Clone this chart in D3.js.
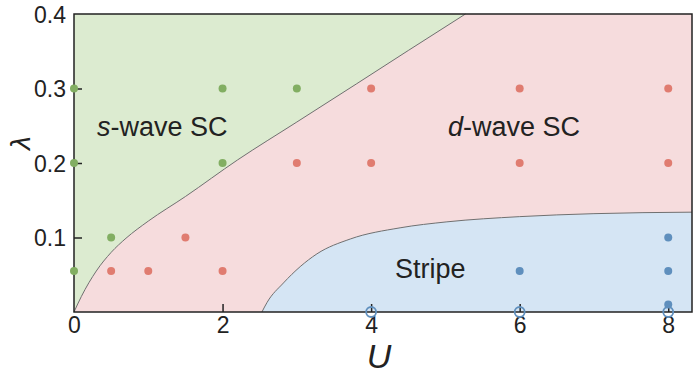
<!DOCTYPE html>
<html><head><meta charset="utf-8">
<script src="https://cdn.jsdelivr.net/npm/d3@7"></script>
<style>body{margin:0;background:#fff}svg{display:block}</style>
</head><body><svg id="c" width="700" height="379"></svg>
<script>
// Phase boundaries
const sdU = [0, 0.1, 0.3, 0.5, 0.7, 1.0, 1.5, 2.2, 3.0, 3.8, 4.5, 5.27];
const sdL = [0, 0.021, 0.055, 0.080, 0.099, 0.122, 0.155, 0.204, 0.255, 0.306, 0.351, 0.400];
const stU = [2.53, 2.6, 2.82, 3.27, 3.72, 4.39, 5.02, 6.0, 7.0, 8.32];
const stL = [0, 0.013, 0.039, 0.078, 0.098, 0.113, 0.121, 0.128, 0.132, 0.134];
// Data points
const sWaveU = [0, 0, 0, 0.5, 2, 2, 3];
const sWaveL = [0.3, 0.2, 0.055, 0.1, 0.3, 0.2, 0.3];
const dWaveU = [0.5, 1, 1.5, 2, 3, 4, 4, 6, 6, 8, 8];
const dWaveL = [0.055, 0.055, 0.1, 0.055, 0.2, 0.3, 0.2, 0.3, 0.2, 0.3, 0.2];
const stripeU = [6, 8, 8, 8];
const stripeL = [0.055, 0.1, 0.055, 0.01];
const openU = [4, 6, 8];
const openL = [0, 0, 0];
const xTicks = [0, 2, 4, 6, 8];
const yTicks = [0.1, 0.2, 0.3, 0.4];

const svg = d3.select("#c");
const x = d3.scaleLinear().domain([0, 8.32]).range([74, 692]);
const y = d3.scaleLinear().domain([0, 0.4]).range([312, 14]);
const font = "'Liberation Sans', Arial, Helvetica, sans-serif";

svg.append("rect").attr("x", x(0)).attr("y", y(0.4)).attr("width", x(8.32) - x(0)).attr("height", y(0) - y(0.4)).attr("fill", "#f6dcdd");

const sd = sdU.map((u, i) => [u, sdL[i]]);
const st = stU.map((u, i) => [u, stL[i]]);
const curve = d3.curveMonotoneX;

svg.append("path").datum(sd).attr("fill", "#dcebd0")
  .attr("d", d3.area().curve(curve).x(d => x(d[0])).y0(y(0.4)).y1(d => y(d[1])));
svg.append("path").datum(st).attr("fill", "#d5e5f4")
  .attr("d", d3.area().curve(curve).x(d => x(d[0])).y0(y(0)).y1(d => y(d[1])));

const line = d3.line().curve(curve).x(d => x(d[0])).y(d => y(d[1]));
svg.append("path").datum(sd).attr("fill", "none").attr("stroke", "#707070").attr("stroke-width", 1).attr("d", line);
svg.append("path").datum(st).attr("fill", "none").attr("stroke", "#707070").attr("stroke-width", 1).attr("d", line);

const gx = svg.append("g").attr("transform", `translate(0,${y(0)})`)
  .call(d3.axisBottom(x).tickValues(xTicks).tickFormat(d3.format("d")).tickSizeInner(-8).tickSizeOuter(0).tickPadding(5));
const gy = svg.append("g").attr("transform", `translate(${x(0)},0)`)
  .call(d3.axisLeft(y).tickValues(yTicks).tickFormat(d3.format(".1f")).tickSizeInner(-8).tickSizeOuter(0).tickPadding(8));
[gx, gy].forEach(g => {
  g.select(".domain").remove();
  g.selectAll("line").attr("stroke", "#222").attr("stroke-width", 1.5);
  g.selectAll("text").attr("font-family", font).attr("font-size", 23).attr("fill", "#222");
});
gx.selectAll(".tick").filter(d => d === 0).select("line").remove();
gy.selectAll(".tick").filter(d => d === 0.4).select("line").remove();
gy.selectAll("text").attr("dy", "0.35em");

svg.append("rect").attr("x", x(0)).attr("y", y(0.4)).attr("width", x(8.32) - x(0)).attr("height", y(0) - y(0.4))
  .attr("fill", "none").attr("stroke", "#222").attr("stroke-width", 1.5);

function dots(U, L, color) {
  svg.append("g").selectAll("circle").data(U.map((u, i) => [u, L[i]])).join("circle")
    .attr("cx", d => x(d[0])).attr("cy", d => y(d[1])).attr("r", 4).attr("fill", color);
}
dots(sWaveU, sWaveL, "#82ae62");
dots(dWaveU, dWaveL, "#e07c70");
dots(stripeU, stripeL, "#5f8fbd");
svg.append("g").selectAll("circle").data(openU.map((u, i) => [u, openL[i]])).join("circle")
  .attr("cx", d => x(d[0])).attr("cy", d => y(d[1])).attr("r", 5)
  .attr("fill", "none").attr("stroke", "#5f8fbd").attr("stroke-width", 1.8);

svg.append("text").attr("x", 379).attr("y", 368).attr("text-anchor", "middle")
  .attr("font-family", font).attr("font-style", "italic").attr("font-size", 34).attr("fill", "#222").text("U");
svg.append("text").attr("transform", "translate(30,143) rotate(-90)").attr("text-anchor", "middle")
  .attr("font-family", font).attr("font-style", "italic").attr("font-size", 28).attr("fill", "#222").text("λ");

function label(xp, yp, ital, rest) {
  const t = svg.append("text").attr("x", xp).attr("y", yp).attr("font-family", font).attr("font-size", 27).attr("fill", "#222");
  if (ital) t.append("tspan").attr("font-style", "italic").text(ital);
  t.append("tspan").text(rest);
}
label(97, 136, "s", "-wave SC");
label(448, 136, "d", "-wave SC");
label(395, 278, "", "Stripe");
</script></body></html>
